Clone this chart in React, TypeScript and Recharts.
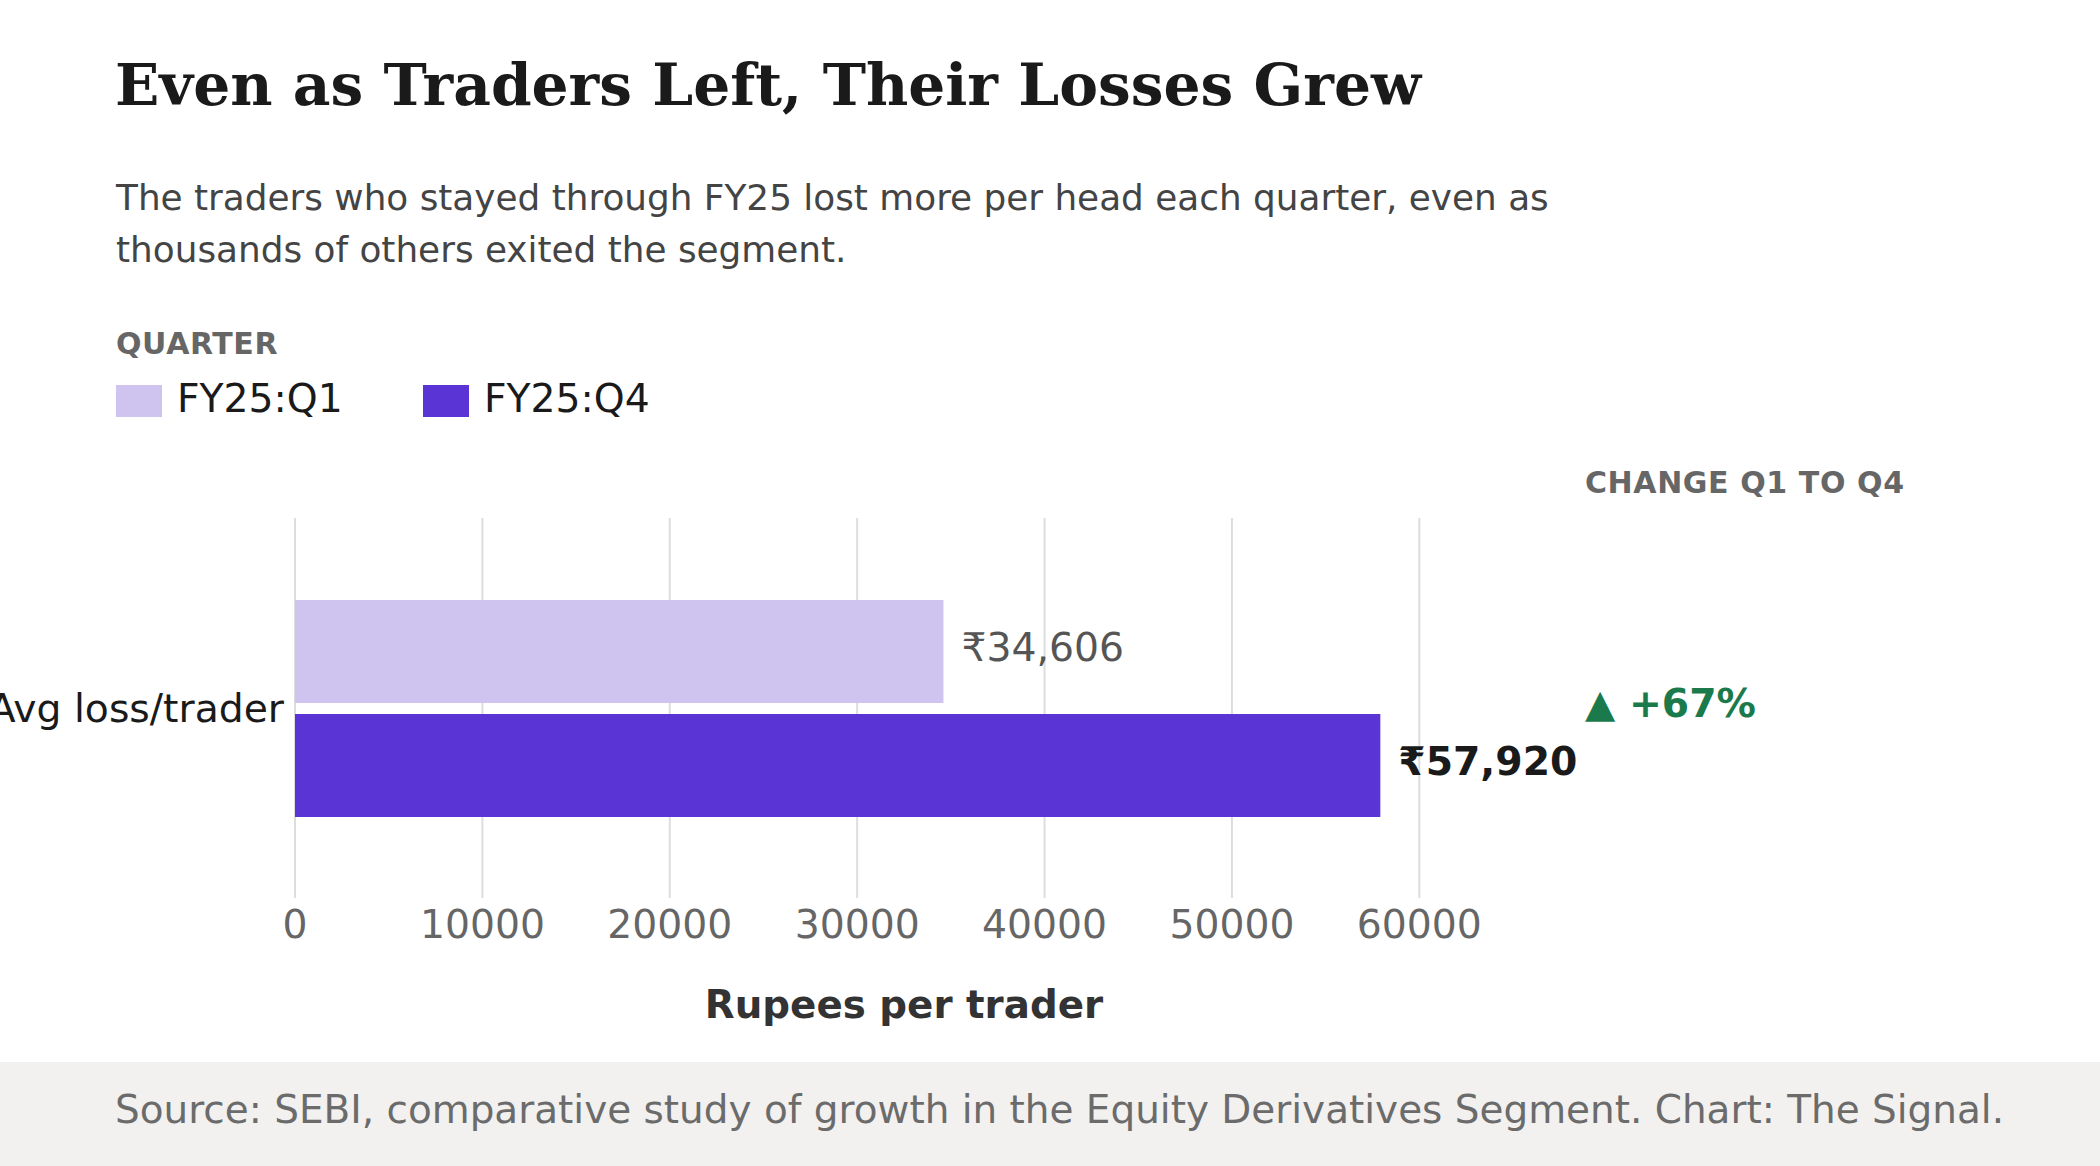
import React from 'react';
import { BarChart, Bar, XAxis, YAxis, CartesianGrid, LabelList } from 'recharts';

const categories = ['Avg loss/trader'];
const q1Values = [34606];
const q4Values = [57920];
const seriesNames = ['FY25:Q1', 'FY25:Q4'];
const xTicks = [0, 10000, 20000, 30000, 40000, 50000, 60000];
const xDomainMax = 65000;

const COLOR_Q1 = '#cfc4f0';
const COLOR_Q4 = '#5b34d6';
const SANS = '"DejaVu Sans", Verdana, sans-serif';
const SERIF = '"DejaVu Serif", Georgia, serif';
const FS = 39.3;

const data = categories.map((c, i) => ({ metric: c, q1: q1Values[i], q4: q4Values[i] }));
const pctChange = Math.round((q4Values[0] / q1Values[0] - 1) * 100);

const fmt = (v: number) => '\u20B9' + Number(v).toLocaleString('en-IN');

const makeLabel = (fill: string, weight: number) => (props: any) => {
  const x = Number(props.x) + Number(props.width) + 18;
  const y = Number(props.y) + Number(props.height) / 2;
  return (
    <text x={x} y={y} dy="0.25em" fill={fill} fontSize={FS} fontWeight={weight} fontFamily={SANS} textAnchor="start">
      {fmt(props.value)}
    </text>
  );
};

const abs = (top: number, left: number, extra: React.CSSProperties = {}): React.CSSProperties => ({
  position: 'absolute',
  top,
  left,
  lineHeight: 1,
  whiteSpace: 'nowrap',
  ...extra,
});

export default function App() {
  return (
    <div style={{ position: 'relative', width: 2100, height: 1166, background: '#ffffff', overflow: 'hidden', fontFamily: SANS }}>
      <style>{'body{margin:0;}'}</style>
      <div style={abs(56, 115, { fontFamily: SERIF, fontWeight: 700, fontSize: 58.2, color: '#1a1a1a' })}>
        Even as Traders Left, Their Losses Grew
      </div>
      <div style={abs(171.5, 116, { fontSize: 35.85, lineHeight: '52px', color: '#444444' })}>
        <div>The traders who stayed through FY25 lost more per head each quarter, even as</div>
        <div>thousands of others exited the segment.</div>
      </div>
      <div style={abs(329, 116, { fontSize: 30, fontWeight: 700, color: '#666666', letterSpacing: 0.6 })}>QUARTER</div>
      {seriesNames.map((name, i) => (
        <div key={name} style={abs(379, i === 0 ? 116 : 423, { display: 'flex', alignItems: 'flex-start' })}>
          <div style={{ width: 46, height: 32, marginTop: 6, background: i === 0 ? COLOR_Q1 : COLOR_Q4 }} />
          <div style={{ marginLeft: 15, fontSize: FS, lineHeight: 1, color: '#1a1a1a' }}>{name}</div>
        </div>
      ))}
      <div style={abs(468, 1585, { fontSize: 30, fontWeight: 700, color: '#666666', letterSpacing: 0.6 })}>
        CHANGE Q1 TO Q4
      </div>
      <div style={abs(684, 1585, { fontSize: FS, fontWeight: 700, color: '#1b7a4b' })}>
        {'\u25B2 +' + pctChange + '%'}
      </div>

      <div style={{ position: 'absolute', left: 0, top: 440 }}>
        <BarChart
          width={2100}
          height={622}
          data={data}
          layout="vertical"
          margin={{ top: 78, right: 587, bottom: 0, left: 0 }}
          barGap={11}
        >
          <CartesianGrid horizontal={false} vertical={true} syncWithTicks={true} stroke="#dddddd" strokeWidth={2} />
          <XAxis
            type="number"
            domain={[0, xDomainMax]}
            ticks={xTicks}
            allowDataOverflow={true}
            axisLine={false}
            tickLine={false}
            tickSize={0}
            tickMargin={12}
            height={164}
            interval={0}
            tick={{ fontSize: FS, fill: '#666666', fontFamily: SANS }}
            label={{
              value: 'Rupees per trader',
              position: 'insideBottom',
              offset: 44,
              style: { fontSize: 38.8, fontWeight: 700, fill: '#333333', fontFamily: SANS },
            }}
          />
          <YAxis
            type="category"
            dataKey="metric"
            width={295}
            axisLine={false}
            tickLine={false}
            tickSize={0}
            tickMargin={11}
            tick={{ fontSize: FS, fill: '#1a1a1a', fontFamily: SANS }}
          />
          <Bar dataKey="q1" name={seriesNames[0]} fill={COLOR_Q1} barSize={103} isAnimationActive={false}>
            <LabelList dataKey="q1" content={makeLabel('#555555', 400)} />
          </Bar>
          <Bar dataKey="q4" name={seriesNames[1]} fill={COLOR_Q4} barSize={103} isAnimationActive={false}>
            <LabelList dataKey="q4" content={makeLabel('#1a1a1a', 700)} />
          </Bar>
        </BarChart>
      </div>

      <div style={{ position: 'absolute', left: 0, top: 1062, width: 2100, height: 104, background: '#f2f1ef' }} />
      <div style={abs(1091, 115, { fontSize: 38.95, color: '#6b6b6b' })}>
        Source: SEBI, comparative study of growth in the Equity Derivatives Segment. Chart: The Signal.
      </div>
    </div>
  );
}
